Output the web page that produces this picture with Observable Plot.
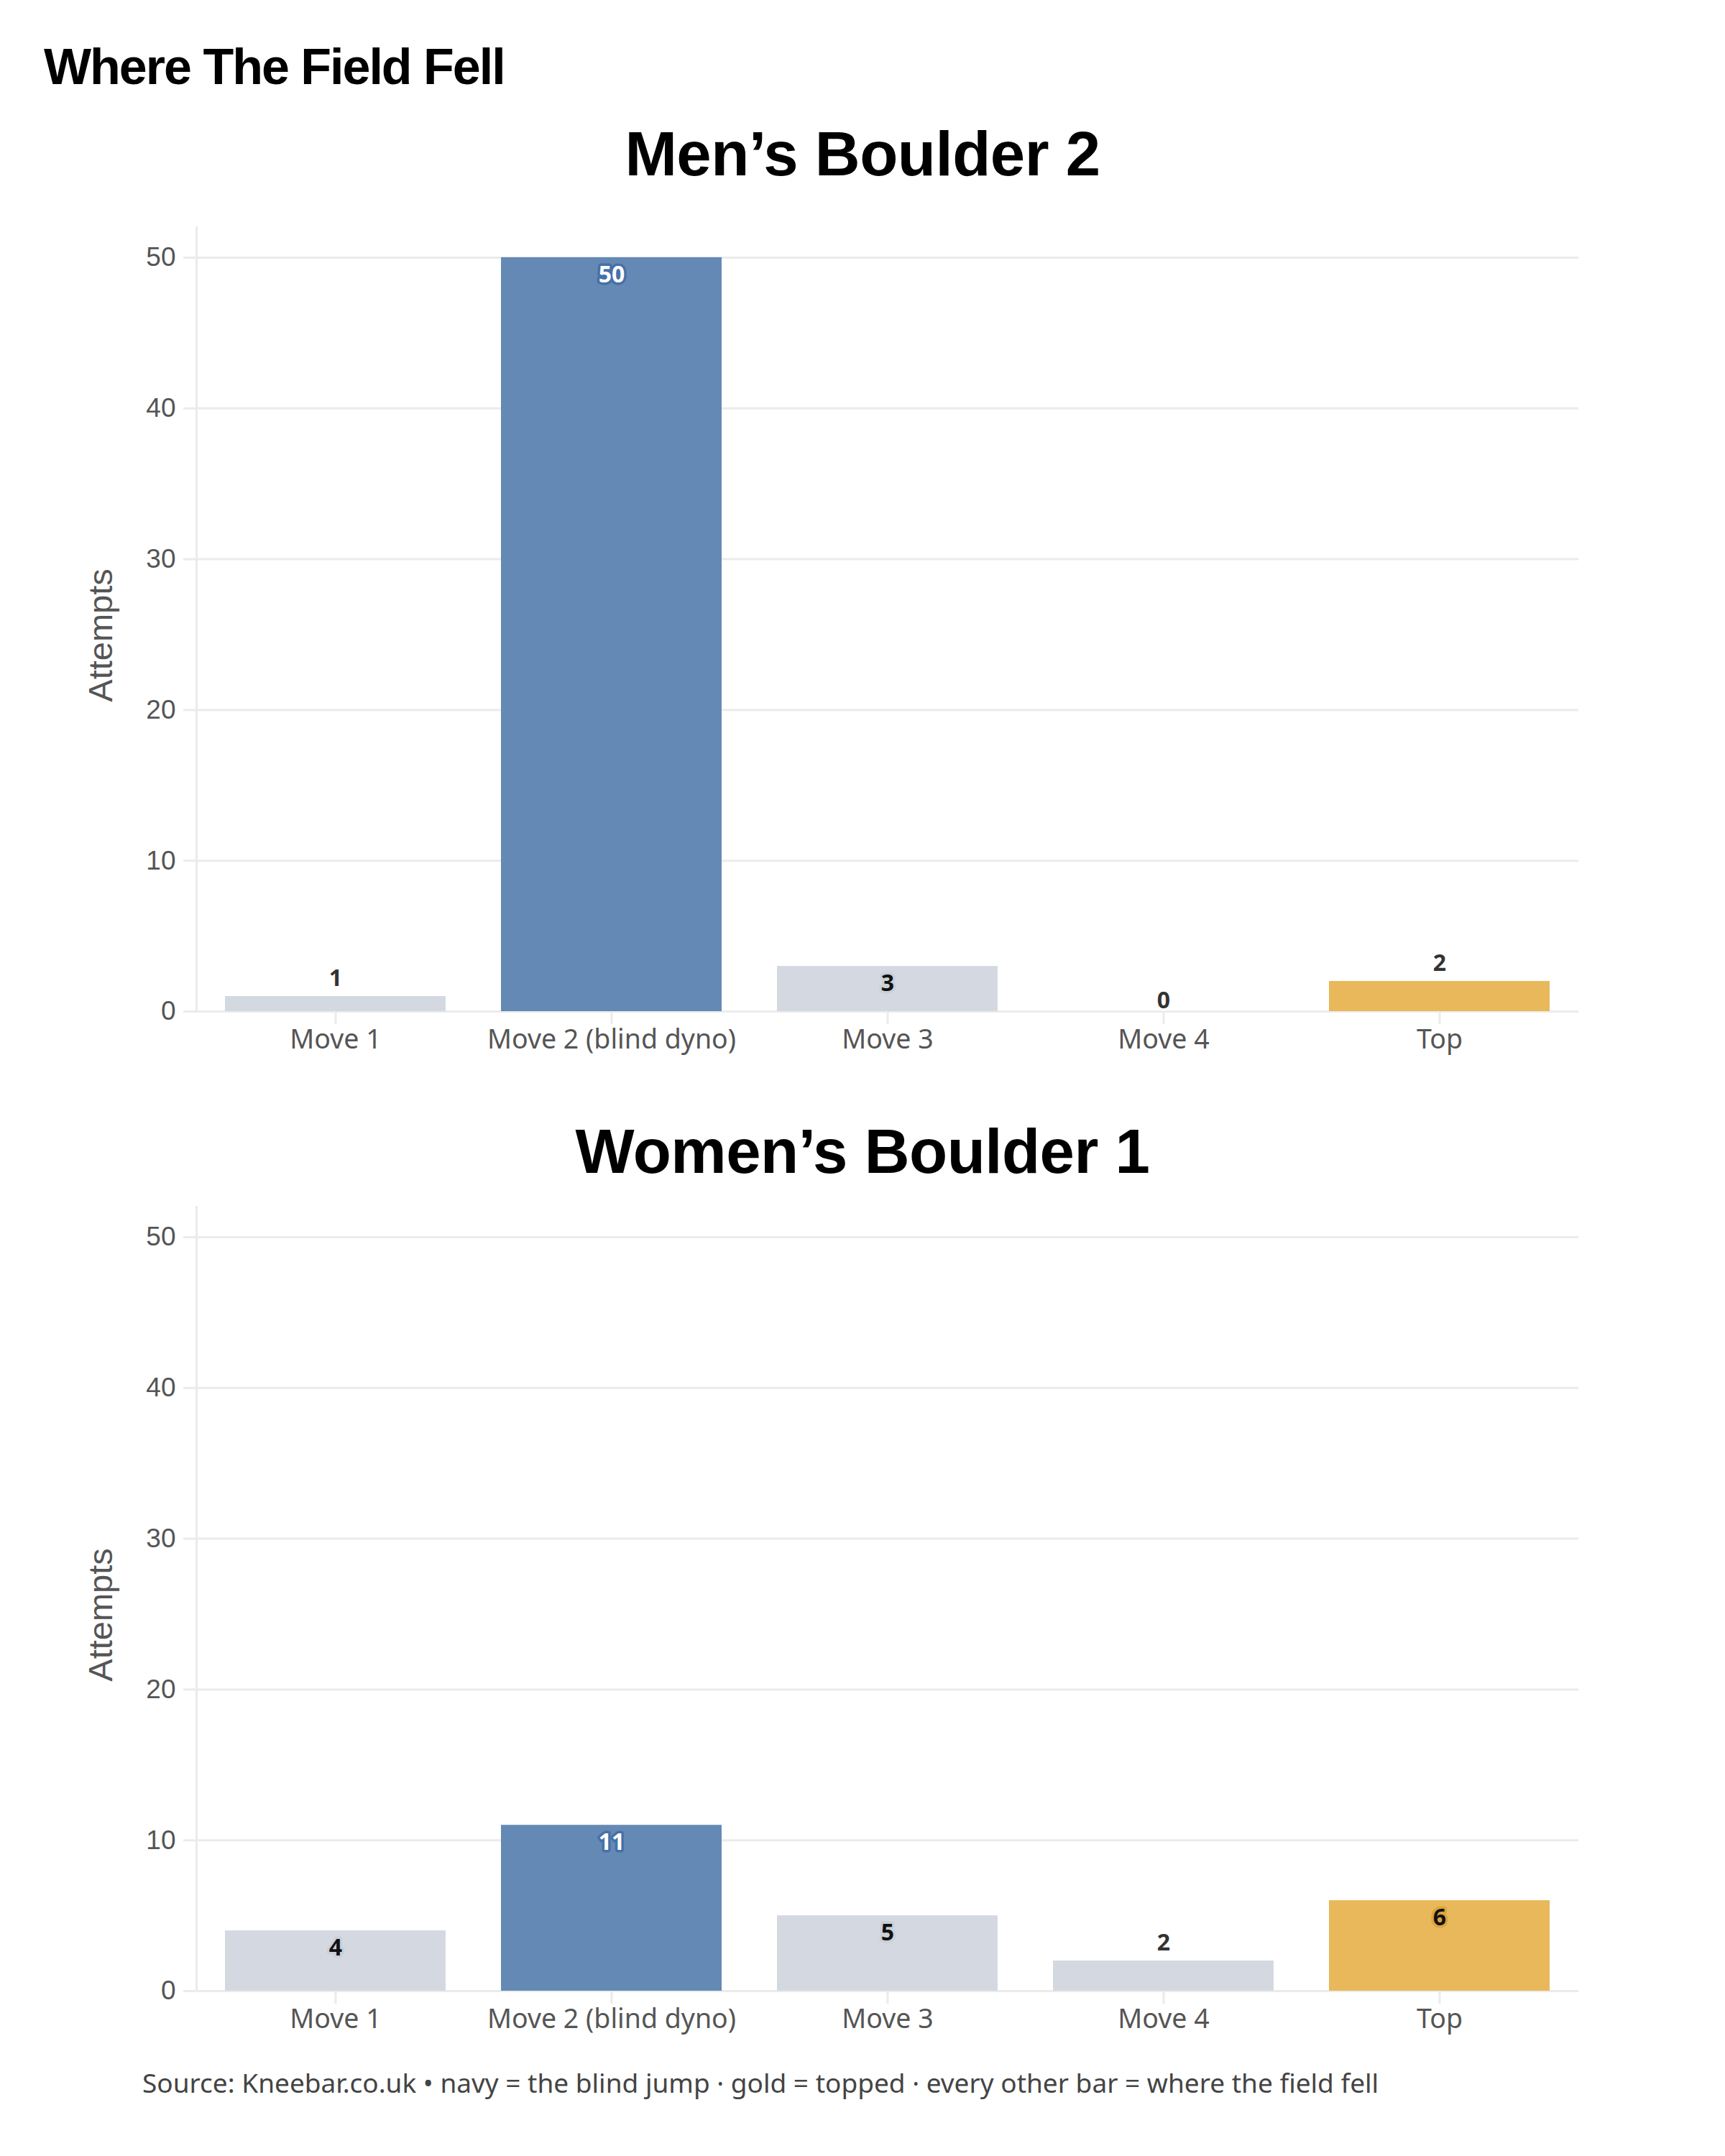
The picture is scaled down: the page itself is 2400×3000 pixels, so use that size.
<!DOCTYPE html>
<html>
<head>
<meta charset="utf-8">
<script src="https://cdn.jsdelivr.net/npm/d3@7"></script>
<script src="https://cdn.jsdelivr.net/npm/@observablehq/plot@0.6"></script>
<style>
  html, body { margin: 0; padding: 0; background: #ffffff; }
  #page { position: relative; width: 2400px; height: 3000px; background: #ffffff; }
  .abs { position: absolute; line-height: 1; white-space: nowrap; }
  #title { left: 61px; top: 53px; font: 700 70px "Liberation Sans", Arial, sans-serif; letter-spacing: -2px; color: #000; }
  .panel-title { left: 0; width: 2400px; text-align: center; font: 700 87px "Liberation Sans", Arial, sans-serif; letter-spacing: -0.5px; color: #000; }
  #caption { left: 198px; top: 2872px; font: 400 37px "Noto Sans", sans-serif; color: #444; }
  .chart { position: absolute; left: 0; }
</style>
</head>
<body>
<div id="page">
  <div id="title" class="abs"></div>
  <div id="t1" class="abs panel-title" style="top:164px"></div>
  <div id="c1" class="chart" style="top:280px"></div>
  <div id="t2" class="abs panel-title" style="top:1552px"></div>
  <div id="c2" class="chart" style="top:1643px"></div>
  <div id="caption" class="abs"></div>
</div>
<script>
// ---- data ----
const chartTitle = "Where The Field Fell";
const panelTitles = ["Men\u2019s Boulder 2", "Women\u2019s Boulder 1"];
const moves = ["Move 1", "Move 2 (blind dyno)", "Move 3", "Move 4", "Top"];
const roles = ["field", "blind", "field", "field", "top"];
const menAttempts = [1, 50, 3, 0, 2];
const womenAttempts = [4, 11, 5, 2, 6];
const yTicks = [0, 10, 20, 30, 40, 50];
const yLabel = "Attempts";
const captionText = "Source: Kneebar.co.uk \u2022 navy = the blind jump \u00b7 gold = topped \u00b7 every other bar = where the field fell";

// ---- styles ----
const roleFill = {field: "#d4d9e1", blind: "#6489b5", top: "#e8b85a"};
const roleInk  = {field: "#111111", blind: "#ffffff", top: "#111111"};
const roleHalo = {field: "#c9d0d9", blind: "#4670a8", top: "#dca43a"};
const gridColor = "#ebebeb";

document.getElementById("title").textContent = chartTitle;
document.getElementById("t1").textContent = panelTitles[0];
document.getElementById("t2").textContent = panelTitles[1];
document.getElementById("caption").textContent = captionText;

function panel(values) {
  const rows = moves.map((m, i) => ({move: m, value: values[i], role: roles[i]}));
  const labelBase = {
    x: "move", y: "value", text: d => String(d.value),
    fontSize: 32, fontWeight: 700, fontFamily: "Noto Sans, sans-serif",
    strokeWidth: 7, strokeLinejoin: "round", paintOrder: "stroke"
  };
  return Plot.plot({
    width: 2400,
    height: 1227,
    marginLeft: 273,
    marginRight: 204,
    marginTop: 36,
    marginBottom: 100,
    style: {background: "transparent", fontFamily: "Noto Sans, sans-serif", overflow: "visible"},
    x: {domain: moves, paddingInner: 0.2, paddingOuter: 0.1, label: null},
    y: {domain: [0, 52], label: null},
    color: {type: "identity"},
    marks: [
      Plot.gridY(yTicks, {stroke: gridColor, strokeOpacity: 1, strokeWidth: 3}),
      Plot.frame({anchor: "left", stroke: gridColor, strokeOpacity: 1, strokeWidth: 3}),
      Plot.barY(rows, {x: "move", y: "value", fill: d => roleFill[d.role]}),
      Plot.text(rows.filter(d => d.value >= 3), {
        ...labelBase, dy: 24, lineAnchor: "middle",
        fill: d => roleInk[d.role], stroke: d => roleHalo[d.role]
      }),
      Plot.text(rows.filter(d => d.value > 0 && d.value < 3), {
        ...labelBase, dy: -25, lineAnchor: "middle", fill: "#333333", stroke: "#ffffff"
      }),
      Plot.text(rows.filter(d => d.value === 0), {
        ...labelBase, dy: -15, lineAnchor: "middle", fill: "#333333", stroke: "#ffffff"
      }),
      Plot.axisY({
        ticks: yTicks, tickSize: 18, tickPadding: 11, label: null,
        stroke: gridColor, strokeOpacity: 1, strokeWidth: 3,
        fill: "#555555", fontSize: 37, fontFamily: "Liberation Sans, Arial, sans-serif"
      }),
      Plot.axisX({
        tickSize: 18, tickPadding: 7, label: null,
        stroke: gridColor, strokeOpacity: 1, strokeWidth: 3,
        fill: "#555555", fontSize: 37.5, fontFamily: "Noto Sans, sans-serif"
      }),
      Plot.text([yLabel], {
        frameAnchor: "left", textAnchor: "middle", rotate: -90, dx: -133, dy: 22,
        fontSize: 47, fill: "#555555", fontFamily: "Liberation Sans, Arial, sans-serif"
      })
    ]
  });
}

document.getElementById("c1").appendChild(panel(menAttempts));
document.getElementById("c2").appendChild(panel(womenAttempts));
</script>
</body>
</html>
